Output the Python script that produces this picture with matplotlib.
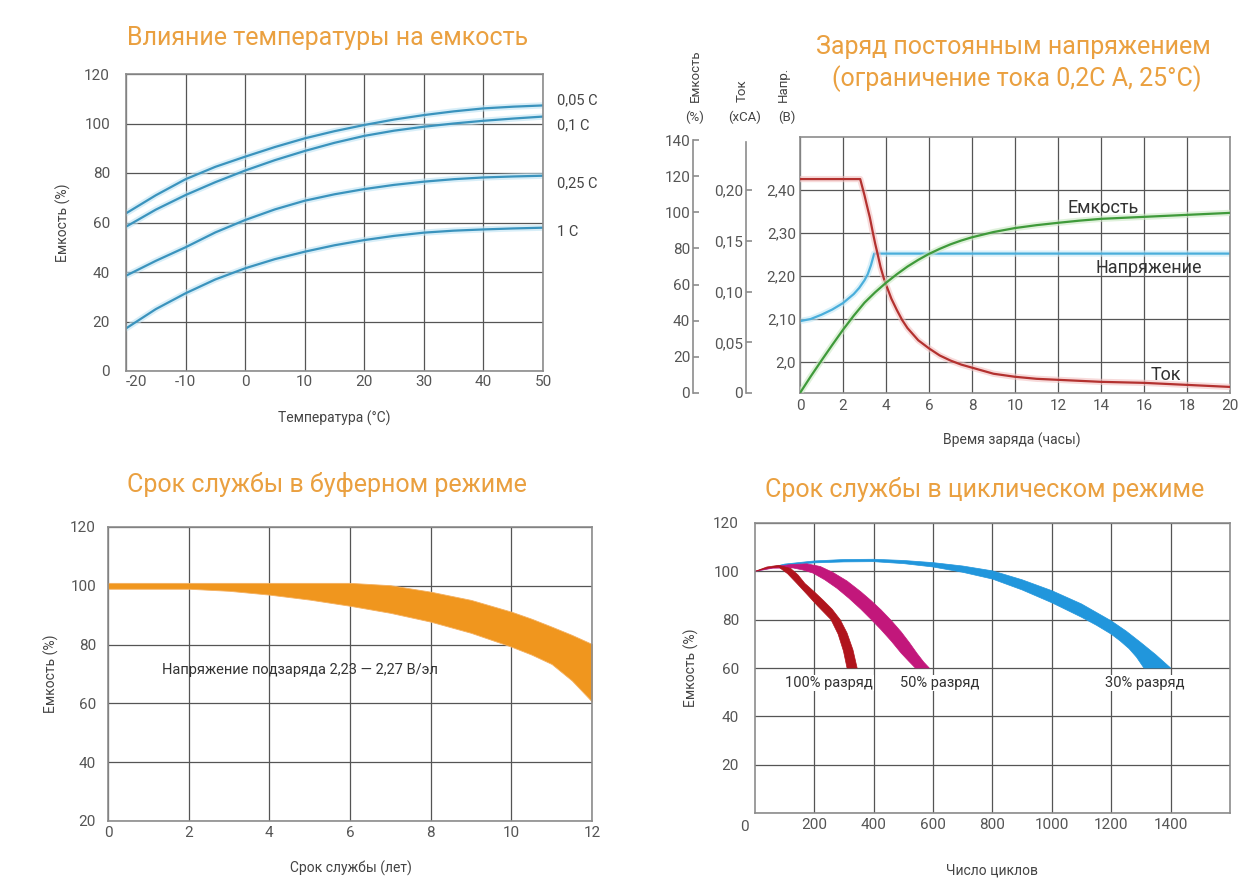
import numpy as np
import matplotlib
matplotlib.use('Agg')
import matplotlib.pyplot as plt

plt.rcParams['font.family'] = ['Roboto', 'DejaVu Sans']
plt.rcParams['axes.unicode_minus'] = False

# ---- panel 1: temperature vs capacity
temp = [-20, -15, -10, -5, 0, 5, 10, 15, 20, 25, 30, 35, 40, 45, 50]
cap_005c = [63.7, 71.0, 77.5, 82.5, 86.6, 90.5, 94.0, 96.9, 99.4, 101.6, 103.4, 104.9, 106.1, 106.8, 107.3]
cap_01c = [58.3, 65.2, 71.1, 76.3, 81.0, 85.2, 88.9, 92.2, 95.0, 97.1, 98.7, 100.0, 101.1, 102.0, 102.8]
cap_025c = [38.5, 44.5, 50.0, 56.0, 61.0, 65.3, 68.8, 71.4, 73.5, 75.2, 76.5, 77.5, 78.2, 78.6, 78.9]
cap_1c = [17.2, 25.0, 31.4, 37.0, 41.5, 45.2, 48.2, 50.8, 52.9, 54.6, 55.9, 56.7, 57.2, 57.6, 57.9]
rate_labels = ['0,05 C', '0,1 C', '0,25 C', '1 C']

# ---- panel 2: constant voltage charge
hours_cur = [0, 2.8, 2.9, 3.0, 3.1, 3.25, 3.4, 3.5, 3.6, 3.75, 3.9, 4.0, 4.25, 4.5, 4.75,
             5, 5.5, 6, 6.5, 7, 7.5, 8, 9, 10, 11, 12, 14, 16, 18, 20]
current = [0.211, 0.211, 0.203, 0.195, 0.186, 0.173, 0.157, 0.147, 0.138, 0.124, 0.113, 0.107,
           0.093, 0.082, 0.072, 0.064, 0.052, 0.044, 0.037, 0.032, 0.028, 0.025, 0.019, 0.016,
           0.014, 0.013, 0.011, 0.010, 0.008, 0.006]
hours_volt = [0, 0.5, 1, 1.5, 2, 2.5, 2.75, 3, 3.15, 3.3, 3.45, 20]
voltage = [2.095, 2.10, 2.11, 2.122, 2.137, 2.158, 2.172, 2.19, 2.204, 2.225, 2.252, 2.252]
hours_cap = [0, 0.5, 1, 1.5, 2, 2.5, 3, 3.5, 4, 4.5, 5, 5.5, 6, 6.5, 7, 7.5, 8, 9, 10, 11, 12,
             13, 14, 16, 18, 20]
charge_cap = [0, 9.2, 18, 26.6, 35, 42.8, 50, 55.8, 61, 65.7, 70, 73.7, 77, 79.8, 82.3, 84.4,
              86.2, 89.1, 91.3, 92.9, 94.2, 95.4, 96.4, 97.5, 98.6, 99.7]
volt_ticks = [2.0, 2.1, 2.2, 2.3, 2.4]
volt_labels = ['2,0', '2,10', '2,20', '2,30', '2,40']
cur_ticks = [0, 0.05, 0.10, 0.15, 0.20]
cur_labels = ['0', '0,05', '0,10', '0,15', '0,20']

# ---- panel 3: float service life
years = [0, 1, 2, 3, 4, 5, 6, 7, 8, 9, 10, 10.5, 11, 11.5, 12]
float_upper = [101, 101, 101, 101, 101, 101, 101, 100.2, 98.0, 95.2, 91.2, 88.8, 86.1, 83.3, 80.2]
float_lower = [99, 99, 99, 98.3, 97.0, 95.3, 93.2, 90.8, 87.8, 84.0, 79.3, 76.6, 73.4, 67.8, 60.6]

# ---- panel 4: cycle service life (bands: outer edge / inner edge)
red_out_x = [0, 40, 80, 120, 145, 168, 200, 230, 260, 287, 310, 330, 344]
red_out_y = [100, 101.8, 102.5, 101.2, 98.5, 95, 91.5, 88, 84.3, 80, 74.5, 67.5, 60]
red_in_x = [0, 40, 80, 110, 141, 175, 210, 256, 280, 298, 310]
red_in_y = [100, 101.3, 101.8, 99, 95, 90.5, 85.8, 80, 74, 67, 60]
mag_out_x = [0, 60, 120, 175, 220, 263, 310, 357, 390, 425, 460, 492, 520, 546, 568, 587]
mag_out_y = [100, 101.8, 102.8, 103.1, 102, 99.5, 96, 91.5, 88, 84, 79.5, 75, 70.5, 66, 62.5, 60]
mag_in_x = [0, 60, 128, 160, 195, 235, 276, 317, 357, 392, 425, 460, 492, 518, 540]
mag_in_y = [100, 101.3, 101.4, 100.6, 99.3, 96.5, 93, 88.8, 84.3, 80, 75.8, 71, 66.2, 62.8, 60]
blue_out_x = [0, 100, 200, 300, 400, 500, 600, 700, 800, 900, 1000, 1100, 1200, 1250, 1300, 1350, 1400]
blue_out_y = [100, 103, 104.3, 104.9, 105, 104.5, 103.6, 102.2, 100.2, 96.5, 92.0, 86.5, 79.5, 75.3, 70.5, 65.5, 60]
blue_in_x = [0, 100, 200, 300, 400, 500, 600, 700, 800, 900, 1000, 1100, 1150, 1200, 1230, 1260, 1285, 1310]
blue_in_y = [100, 102.5, 103.5, 103.9, 104, 103.2, 101.8, 99.6, 96.8, 92.3, 87.0, 81.0, 77.7, 74.0, 71.2, 68.0, 64.5, 60]

W, H = 1251, 885
TITLE_C = '#eaa040'
GRID_C = '#555555'
SPINE_C = '#8c8c8c'
TICK_C = '#555555'
LABEL_C = '#444444'

fig = plt.figure(figsize=(W / 100, H / 100), dpi=100)


def px_axes(x0, y0, x1, y1):
    return fig.add_axes([x0 / W, 1 - y1 / H, (x1 - x0) / W, (y1 - y0) / H])


def style(ax, ypad, xpad):
    ax.grid(True, color=GRID_C, lw=0.9)
    ax.set_axisbelow(True)
    for s in ax.spines.values():
        s.set_color(SPINE_C)
        s.set_linewidth(1.2)
    ax.tick_params(axis='y', length=0, pad=ypad, labelsize=11, labelcolor=TICK_C)
    ax.tick_params(axis='x', length=0, pad=xpad, labelsize=11, labelcolor=TICK_C)


def ftitle(x, y, s):
    fig.text(x / W, 1 - y / H, s, color=TITLE_C, fontsize=18, ha='center', va='center')


def axlabels(ax, xl, xpos, yl=None, ypos=None):
    ax.set_xlabel(xl, fontsize=10, color=LABEL_C)
    ax.xaxis.set_label_coords(*xpos)
    ax.xaxis.label.set_va('center')
    if yl:
        ax.set_ylabel(yl, fontsize=10, color=LABEL_C)
        ax.yaxis.set_label_coords(*ypos)
        ax.yaxis.label.set(va='center', ha='center')


def halo_plot(ax, x, y, color, halo):
    ax.plot(x, y, color=halo, lw=4.5, alpha=0.6, solid_capstyle='round')
    ax.plot(x, y, color=color, lw=1.6)


# ---------- panel 1
ax1 = px_axes(126, 74, 543, 371)
ax1.set_xlim(-20, 50)
ax1.set_ylim(0, 120)
ax1.set_xticks(range(-20, 51, 10))
ax1.set_yticks(range(0, 121, 20))
style(ax1, 11.5, 3)
ax1.get_xticklabels()[0].set_ha('left')
for series, lab, ly in zip([cap_005c, cap_01c, cap_025c, cap_1c], rate_labels,
                           [109.5, 99.4, 76, 56.2]):
    halo_plot(ax1, temp, series, '#3a93bd', '#bfe4f4')
    ax1.text(52.3, ly, lab, fontsize=10.5, color=LABEL_C, va='center', ha='left')
axlabels(ax1, 'Температура (°C)', (0.5, -0.158), 'Емкость (%)', (-0.151, 0.5))
ftitle(328, 38, 'Влияние температуры на емкость')

# ---------- panel 2
ax2 = px_axes(800, 137, 1230, 393)
ax2.set_xlim(0, 20)
ax2.set_ylim(1.928, 2.523)
ax2.set_xticks(range(0, 21, 2))
ax2.set_yticks(volt_ticks)
ax2.set_yticklabels(volt_labels)
style(ax2, 3, 4)
halo_plot(ax2, hours_volt, voltage, '#4aaedb', '#c4e8f6')

ax_cur = ax2.twinx()
ax_cap = ax2.twinx()
for tw, pos, lim, bound in [(ax_cur, -0.1256, 0.2525, 0.248), (ax_cap, -0.2488, 141.7, 140)]:
    tw.yaxis.tick_left()
    for k in ('top', 'right', 'bottom'):
        tw.spines[k].set_visible(False)
    tw.spines['left'].set_visible(True)
    tw.spines['left'].set_position(('axes', pos))
    tw.spines['left'].set_color(SPINE_C)
    tw.spines['left'].set_linewidth(1.2)
    tw.spines['left'].set_bounds(0, bound)
    tw.set_ylim(0, lim)
    tw.tick_params(axis='y', direction='in', length=4, width=1.2, color=SPINE_C,
                   pad=2, labelsize=11, labelcolor=TICK_C)
ax_cur.set_yticks(cur_ticks)
ax_cur.set_yticklabels(cur_labels)
ax_cap.set_yticks(range(0, 141, 20))
halo_plot(ax_cur, hours_cur, current, '#b3312f', '#f3c2c2')
halo_plot(ax_cap, hours_cap, charge_cap, '#3f9a3a', '#cbe8c4')

ax2.text(14.1, 2.358, 'Емкость', fontsize=13, color='#333333', ha='center', va='center')
ax2.text(16.2, 2.219, 'Напряжение', fontsize=13, color='#333333', ha='center', va='center')
ax2.text(17.0, 1.969, 'Ток', fontsize=13, color='#333333', ha='center', va='center')
axlabels(ax2, 'Время заряда (часы)', (0.493, -0.184))

for x, s in [(695, 'Емкость'), (742, 'Ток'), (783, 'Напр.')]:
    fig.text(x / W, 1 - 102 / H, s, rotation=90, fontsize=9.5, color=LABEL_C,
             ha='center', va='bottom')
for x, s in [(695, '(%)'), (745, '(xCA)'), (787, '(В)')]:
    fig.text(x / W, 1 - 117 / H, s, fontsize=9.5, color=LABEL_C, ha='center', va='center')
ftitle(1013, 47, 'Заряд постоянным напряжением')
ftitle(1017, 79, '(ограничение тока 0,2С А, 25°С)')

# ---------- panel 3
ax3 = px_axes(108, 527, 592, 821)
ax3.set_xlim(0, 12)
ax3.set_ylim(20, 120)
ax3.set_xticks(range(0, 13, 2))
ax3.set_yticks(range(20, 121, 20))
style(ax3, 8.6, 3.5)
ax3.fill_between(years, float_lower, float_upper, color='#f0961e', lw=0.6, edgecolor='#f4b060')
ax3.text(1.34, 71.4, 'Напряжение подзаряда 2,23 — 2,27 В/эл', fontsize=10.5,
         color='#333333', ha='left', va='center')
axlabels(ax3, 'Срок службы (лет)', (0.502, -0.16), 'Емкость (%)', (-0.118, 0.5))
ftitle(327, 485, 'Срок службы в буферном режиме')

# ---------- panel 4
ax4 = px_axes(755, 523, 1230, 813)
ax4.set_xlim(0, 1600)
ax4.set_ylim(0, 120)
ax4.set_xticks(range(200, 1401, 200))
ax4.set_yticks(range(0, 121, 20))
ax4.set_yticklabels([''] + [str(v) for v in range(20, 121, 20)])
style(ax4, 11.5, 3.5)
for ox, oy, ix, iy, col in [(blue_out_x, blue_out_y, blue_in_x, blue_in_y, '#2196dc'),
                            (mag_out_x, mag_out_y, mag_in_x, mag_in_y, '#c2177b'),
                            (red_out_x, red_out_y, red_in_x, red_in_y, '#b0141c')]:
    ax4.fill(list(ox) + list(ix)[::-1], list(oy) + list(iy)[::-1], color=col, lw=0.5)
for x, s in [(249, '100% разряд'), (623, '50% разряд'), (1314, '30% разряд')]:
    ax4.text(x, 53.8, s, fontsize=10.5, color='#333333', ha='center', va='center',
             bbox=dict(facecolor='white', edgecolor='none', pad=1))
ax4.text(-0.023, -0.048, '0', transform=ax4.transAxes, fontsize=11, color=TICK_C,
         ha='center', va='center')
axlabels(ax4, 'Число циклов', (0.499, -0.197), 'Емкость (%)', (-0.133, 0.5))
ftitle(985, 490, 'Срок службы в циклическом режиме')

fig.savefig('out.png', dpi=100, facecolor='white')
